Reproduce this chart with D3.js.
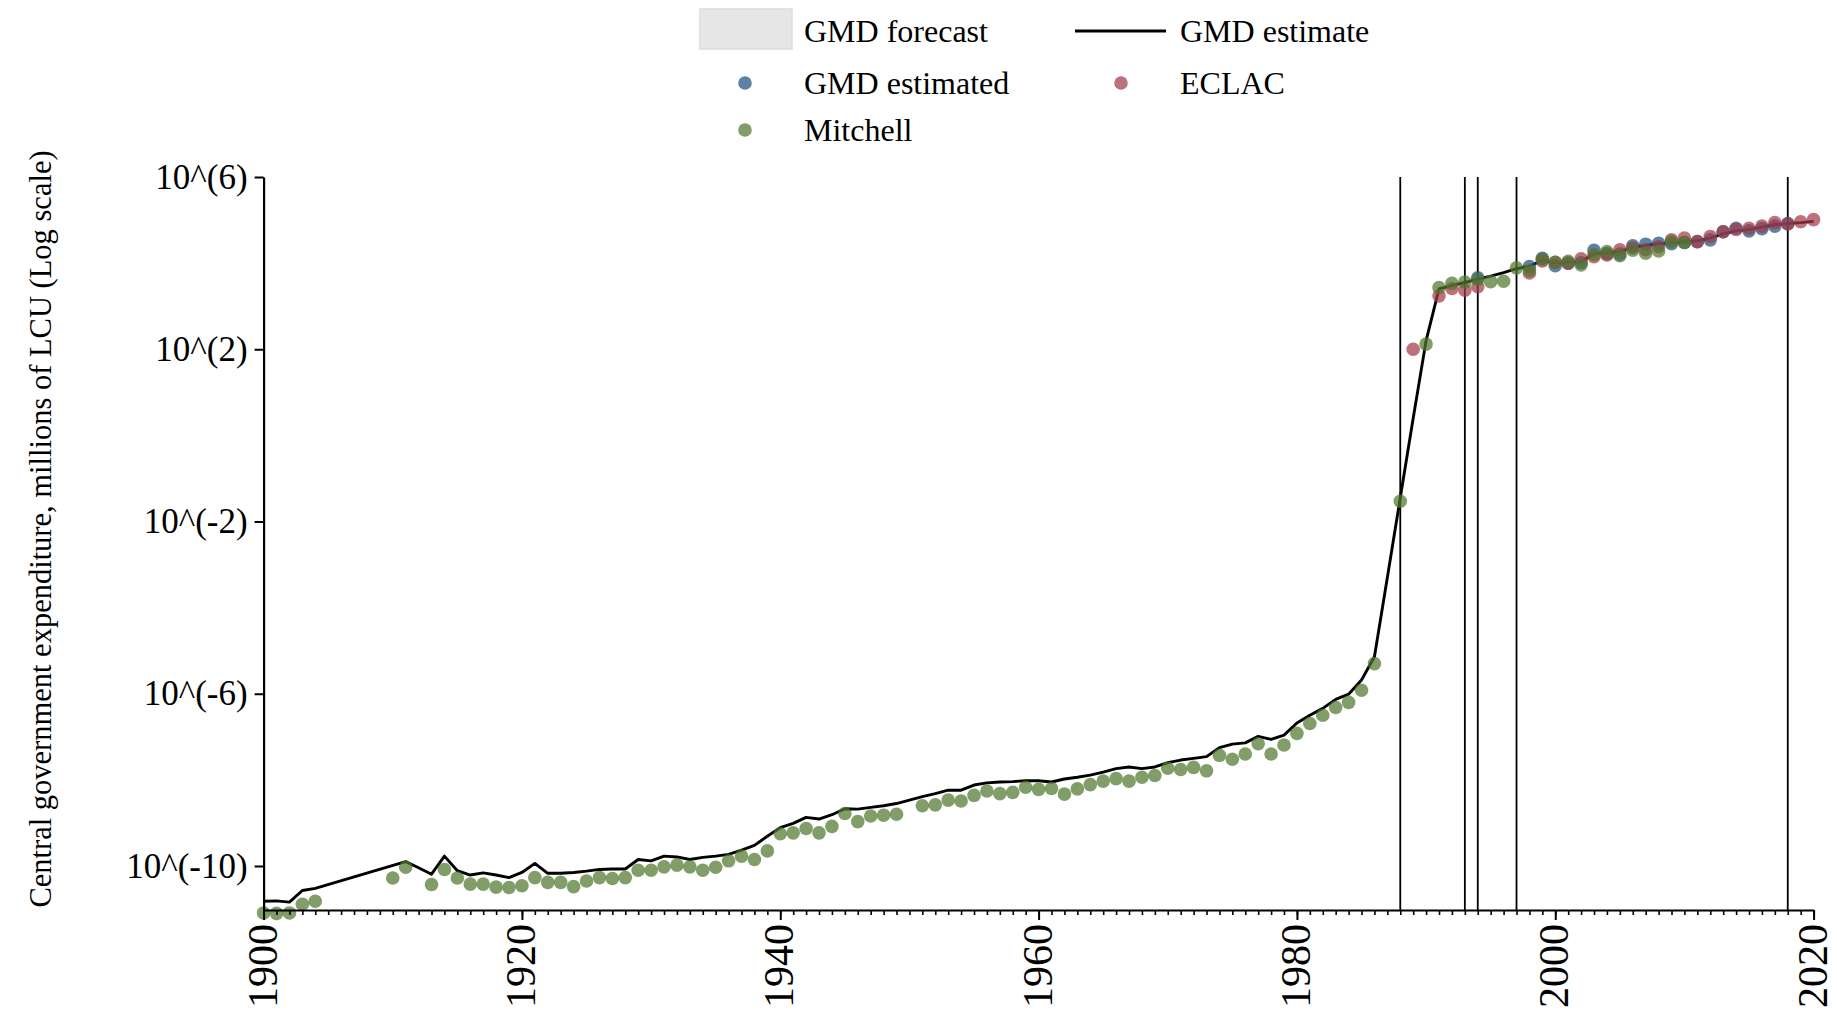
<!DOCTYPE html>
<html>
<head>
<meta charset="utf-8">
<script src="https://cdn.jsdelivr.net/npm/d3@7"></script>
<style>
  html, body { margin: 0; padding: 0; background: #fff; }
  svg { display: block; font-family: "Liberation Serif", "Times New Roman", serif; }
</style>
</head>
<body>
<svg id="chart" width="1837" height="1017"></svg>
<script>
// ---------------- DATA (values are log10 of millions of LCU) ----------------
const estimateYears = [1900,1901,1902,1903,1904,1911,1912,1913,1914,1915,1916,1917,1918,1919,1920,1921,1922,1923,1924,1925,1926,1927,1928,1929,1930,1931,1932,1933,1934,1935,1936,1937,1938,1939,1940,1941,1942,1943,1944,1945,1946,1947,1948,1949,1950,1951,1952,1953,1954,1955,1956,1957,1958,1959,1960,1961,1962,1963,1964,1965,1966,1967,1968,1969,1970,1971,1972,1973,1974,1975,1976,1977,1978,1979,1980,1981,1982,1983,1984,1985,1986,1987,1988,1989,1990,1991,1992,1993,1994,1995,1996,1997,1998,1999,2000,2001,2002,2003,2004,2005,2006,2007,2008,2009,2010,2011,2012,2013,2014,2015,2016,2017,2018,2019,2020];
const estimateLog = [-10.82,-10.81,-10.84,-10.57,-10.52,-9.90,-10.04,-10.19,-9.77,-10.11,-10.21,-10.16,-10.21,-10.27,-10.15,-9.94,-10.17,-10.17,-10.15,-10.12,-10.08,-10.07,-10.07,-9.85,-9.88,-9.77,-9.79,-9.85,-9.80,-9.77,-9.73,-9.63,-9.52,-9.31,-9.11,-9.01,-8.87,-8.91,-8.81,-8.67,-8.68,-8.64,-8.60,-8.55,-8.47,-8.39,-8.32,-8.24,-8.24,-8.12,-8.07,-8.05,-8.04,-8.02,-8.02,-8.05,-7.98,-7.94,-7.89,-7.82,-7.74,-7.70,-7.74,-7.70,-7.60,-7.54,-7.50,-7.46,-7.25,-7.17,-7.14,-6.99,-7.06,-6.96,-6.68,-6.50,-6.34,-6.13,-6.01,-5.68,-5.14,-3.30,-1.45,0.40,2.20,3.40,3.48,3.55,3.63,3.70,3.78,3.87,3.93,4.06,4.00,4.02,4.03,4.22,4.24,4.27,4.36,4.41,4.45,4.47,4.49,4.52,4.58,4.68,4.75,4.78,4.84,4.89,4.92,4.94,4.97];

const gmdYears = [1994,1998,1999,2000,2001,2002,2003,2004,2005,2006,2007,2008,2009,2010,2011,2012,2013,2014,2015,2016,2017,2018];
const gmdLog   = [3.66,3.92,4.11,3.94,4.00,4.01,4.30,4.22,4.21,4.40,4.44,4.46,4.45,4.48,4.50,4.54,4.73,4.81,4.75,4.80,4.86,4.92];

const eclacYears = [1989,1991,1992,1993,1994,1998,1999,2000,2001,2002,2003,2004,2005,2006,2007,2008,2009,2010,2011,2012,2013,2014,2015,2016,2017,2018,2019,2020];
const eclacLog   = [2.00,3.24,3.41,3.37,3.45,3.77,4.05,4.02,4.00,4.10,4.15,4.19,4.31,4.35,4.31,4.38,4.54,4.58,4.50,4.62,4.73,4.78,4.81,4.86,4.94,4.91,4.96,5.01];

const mitchellYears = [1900,1901,1902,1903,1904,1910,1911,1913,1914,1915,1916,1917,1918,1919,1920,1921,1922,1923,1924,1925,1926,1927,1928,1929,1930,1931,1932,1933,1934,1935,1936,1937,1938,1939,1940,1941,1942,1943,1944,1945,1946,1947,1948,1949,1951,1952,1953,1954,1955,1956,1957,1958,1959,1960,1961,1962,1963,1964,1965,1966,1967,1968,1969,1970,1971,1972,1973,1974,1975,1976,1977,1978,1979,1980,1981,1982,1983,1984,1985,1986,1988,1990,1991,1992,1993,1994,1995,1996,1997,1998,1999,2000,2001,2002,2003,2004,2005,2006,2007,2008,2009,2010];
const mitchellLog   = [-11.09,-11.10,-11.09,-10.89,-10.82,-10.28,-10.03,-10.43,-10.08,-10.28,-10.42,-10.42,-10.49,-10.50,-10.46,-10.27,-10.38,-10.38,-10.48,-10.35,-10.27,-10.29,-10.27,-10.10,-10.10,-10.02,-9.98,-10.02,-10.10,-10.03,-9.88,-9.77,-9.85,-9.65,-9.25,-9.23,-9.13,-9.23,-9.08,-8.78,-8.97,-8.84,-8.82,-8.80,-8.60,-8.58,-8.47,-8.49,-8.36,-8.26,-8.32,-8.29,-8.17,-8.22,-8.20,-8.33,-8.21,-8.11,-8.03,-7.97,-8.03,-7.94,-7.90,-7.73,-7.76,-7.71,-7.79,-7.43,-7.52,-7.40,-7.16,-7.40,-7.19,-6.92,-6.69,-6.50,-6.32,-6.20,-5.92,-5.30,-1.53,2.12,3.43,3.53,3.56,3.62,3.57,3.58,3.89,3.83,4.09,4.02,4.04,3.96,4.20,4.27,4.17,4.30,4.23,4.28,4.50,4.48];

const breakYears = [1988,1993,1994,1997,2018];

const xTickYears = [1900,1920,1940,1960,1980,2000,2020];
const yTickExponents = [6,2,-2,-6,-10];

const yTitle = "Central government expenditure, millions of LCU (Log scale)";
const legendLabels = ["GMD forecast","GMD estimate","GMD estimated","ECLAC","Mitchell"];

// ---------------- STYLE ----------------
const colors = { gmd: "#1f527f", eclac: "#a33a48", mitchell: "#50782f" };
const dotOpacity = 0.72;
const dotR = 6.8;

// ---------------- SCALES ----------------
const svg = d3.select("#chart");
const x = d3.scaleLinear().domain([1900, 2020]).range([263.6, 1813.6]);
const y = d3.scaleLog().domain([Math.pow(10, -11.022), 1e6]).range([910, 177]);
const P = v => Math.pow(10, v);

const zip = (xs, vs) => xs.map((d, i) => ({ year: d, value: P(vs[i]) }));

// ---------------- BREAK LINES ----------------
svg.append("g").selectAll("line").data(breakYears).join("line")
  .attr("x1", d => x(d)).attr("x2", d => x(d))
  .attr("y1", y(1e6)).attr("y2", y.range()[0])
  .attr("stroke", "#000").attr("stroke-width", 1.8);

// ---------------- ESTIMATE LINE ----------------
const line = d3.line().x(d => x(d.year)).y(d => y(d.value));
svg.append("path").datum(zip(estimateYears, estimateLog))
  .attr("d", line).attr("fill", "none")
  .attr("stroke", "#000").attr("stroke-width", 2.9)
  .attr("stroke-linejoin", "round");

// ---------------- DOTS ----------------
function dots(xs, vs, color) {
  svg.append("g").selectAll("circle").data(zip(xs, vs)).join("circle")
    .attr("cx", d => x(d.year)).attr("cy", d => y(d.value))
    .attr("r", dotR).attr("fill", color).attr("fill-opacity", dotOpacity);
}
dots(gmdYears, gmdLog, colors.gmd);
dots(eclacYears, eclacLog, colors.eclac);
dots(mitchellYears, mitchellLog, colors.mitchell);

// ---------------- AXES ----------------
const xMinor = svg.append("g").attr("transform", `translate(0,${y.range()[0]})`)
  .call(d3.axisBottom(x).tickValues(d3.range(1900, 2021)).tickSize(5).tickFormat(""));
xMinor.select(".domain").remove();
xMinor.selectAll("line").attr("stroke-width", 1.6);

const xAxis = svg.append("g").attr("transform", `translate(0,${y.range()[0]})`)
  .call(d3.axisBottom(x).tickValues(xTickYears).tickSize(10).tickSizeOuter(0).tickFormat(d3.format("d")));
xAxis.select(".domain").attr("stroke-width", 2.2);
xAxis.selectAll(".tick line").attr("stroke-width", 2);
xAxis.selectAll("text")
  .attr("transform", "rotate(-90)")
  .attr("x", -14).attr("y", 0).attr("dy", "0.3em")
  .style("text-anchor", "end")
  .style("font-family", "Liberation Serif")
  .style("font-size", "42px").attr("fill", "#000");

const yAxis = svg.append("g").attr("transform", `translate(${x.range()[0]},0)`)
  .call(d3.axisLeft(y).tickValues(yTickExponents.map(P)).tickSize(9).tickSizeOuter(0).tickPadding(7)
    .tickFormat(d => "10^(" + Math.round(Math.log10(d)) + ")"));
yAxis.select(".domain").attr("stroke-width", 2.2);
yAxis.selectAll(".tick line").attr("stroke-width", 2);
yAxis.selectAll("text").style("font-family", "Liberation Serif")
  .style("font-size", "35px").attr("fill", "#000");

svg.append("text")
  .attr("transform", `translate(41,529) rotate(-90)`)
  .attr("text-anchor", "middle").attr("dominant-baseline", "central")
  .style("font-size", "30.5px").text(yTitle);

// ---------------- LEGEND ----------------
const leg = svg.append("g").style("font-size", "32px");
const col1 = 804, col2 = 1180, rows = [31, 83, 130];
// forecast swatch
leg.append("rect").attr("x", 700).attr("y", 9).attr("width", 92).attr("height", 40)
  .attr("fill", "#e6e6e6").attr("stroke", "#dcdcdc").attr("stroke-width", 1.5);
leg.append("text").attr("x", col1).attr("y", rows[0]).attr("dominant-baseline", "central").text(legendLabels[0]);
// estimate line
leg.append("line").attr("x1", 1075).attr("x2", 1166).attr("y1", rows[0]).attr("y2", rows[0])
  .attr("stroke", "#000").attr("stroke-width", 3);
leg.append("text").attr("x", col2).attr("y", rows[0]).attr("dominant-baseline", "central").text(legendLabels[1]);
// dots
const legDots = [
  { cx: 745, cy: rows[1], c: colors.gmd, t: legendLabels[2], tx: col1 },
  { cx: 1121, cy: rows[1], c: colors.eclac, t: legendLabels[3], tx: col2 },
  { cx: 745, cy: rows[2], c: colors.mitchell, t: legendLabels[4], tx: col1 }
];
leg.selectAll("circle").data(legDots).join("circle")
  .attr("cx", d => d.cx).attr("cy", d => d.cy).attr("r", dotR)
  .attr("fill", d => d.c).attr("fill-opacity", dotOpacity);
leg.selectAll("text.ld").data(legDots).join("text").attr("class", "ld")
  .attr("x", d => d.tx).attr("y", d => d.cy).attr("dominant-baseline", "central").text(d => d.t);
</script>
</body>
</html>
